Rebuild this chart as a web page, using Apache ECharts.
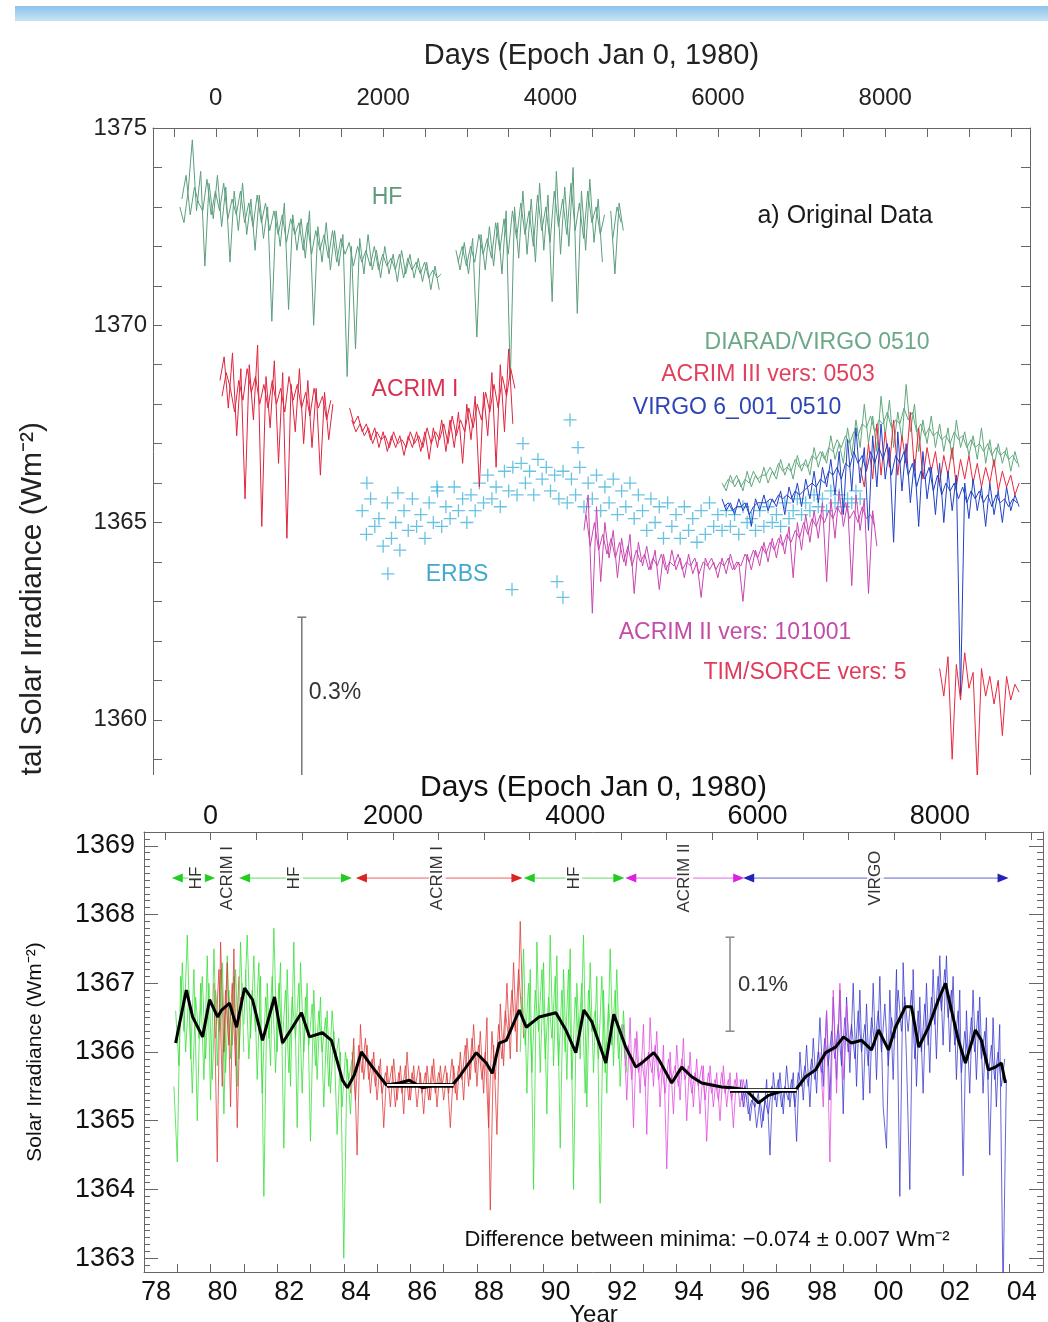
<!DOCTYPE html>
<html>
<head>
<meta charset="utf-8">
<script src="https://cdn.jsdelivr.net/npm/echarts@6.0.0/dist/echarts.min.js"></script>
<style>
  html, body { margin: 0; padding: 0; background: #fff; }
  #top { position: absolute; left: 0; top: 0; width: 1048px; height: 775px; }
  #bottom { position: absolute; left: 0; top: 775px; width: 1048px; height: 547px; }
</style>
</head>
<body>
<div id="top"></div>
<div id="bottom"></div>
<script>
var FONT = '"Liberation Sans", Arial, Helvetica, sans-serif';

// ---------- panel a: original data, x in days (epoch Jan 0, 1980) ----------
// each instrument has two interleaved samplings (a, then b shifted by 25 days)
var hfStart = -430, hfVals = [
  1373.0,1372.6,1373.4,1374.7,1372.9,1373.9,1371.5,1373.6,1372.7,1373.8,
  1372.5,1373.5,1371.6,1373.4,1372.4,1373.6,1372.3,1373.2,1371.9,1373.3,
  1372.2,1373.0,1370.1,1372.9,1372.0,1373.1,1370.4,1372.8,1371.9,1372.7,
  1371.7,1372.9,1370.0,1372.5,1371.6,1372.6,1371.4,1372.4,1371.5,1372.3,
  1368.7,1372.0,1369.4,1372.2,1371.3,1372.3,1371.4,1371.9,1371.2,1372.0,
  1371.3,1371.8,1371.1,1371.9,1371.3,1371.8,1371.2,1371.7,1371.1,1371.6,
  1370.9,1371.5,1370.9,null,null,null,1371.9,1371.4,1372.1,1371.3,
  1372.2,1369.7,1372.3,1371.4,1372.5,1371.5,1372.6,1371.3,1372.9,1368.6,
  1373.0,1371.7,1373.4,1371.8,1373.2,1371.6,1373.6,1371.9,1373.3,1370.6,
  1373.9,1371.8,1373.5,1372.0,1374.0,1370.3,1373.4,1371.9,1373.7,1372.1,
  1373.2,1371.6,null,1372.9,1371.3,1373.1,1372.4];
var hfbStart = -405, hfbVals = [
  1373.2,1373.8,1372.8,1373.5,1373.1,1372.9,1373.7,1372.8,1373.4,1372.9,
  1373.6,1372.7,1373.2,1372.8,1373.4,1372.6,1373.1,1372.5,1373.3,1372.6,
  1373.1,1372.4,1372.9,1372.3,1372.8,1372.1,1372.7,1372.3,1372.6,1371.9,
  1372.6,1371.8,1372.4,1371.9,1372.3,1371.7,1372.4,1371.6,1372.2,1371.8,
  1372.1,1371.5,1372.0,1371.6,1371.9,1371.5,1372.0,1371.4,1371.8,1371.5,
  1371.7,1371.4,1371.8,1371.2,1371.7,1371.4,1371.6,1371.3,1371.6,1371.2,
  1371.4,1371.2,1371.3,null,null,null,1371.6,1372.0,1371.5,1372.0,
  1371.6,1372.3,1371.8,1372.2,1371.7,1372.6,1371.9,1372.7,1371.8,1372.9,
  1372.2,1373.1,1372.3,1372.9,1372.0,1373.3,1372.4,1373.0,1372.1,1373.4,
  1372.5,1373.2,1372.3,1373.6,1372.4,1373.1,1372.2,1373.4,1372.6,1373.0,
  1372.3,1372.8,null,1372.2,1373.0,1372.6];

var acrim1Start = 50, acrim1Vals = [
  1368.6,1369.2,1367.9,1369.3,1367.2,1368.9,1365.6,1369.0,1367.6,1369.5,
  1364.9,1368.7,1367.4,1369.1,1366.5,1368.8,1364.6,1368.5,1367.3,1368.9,
  1367.0,1368.6,1366.9,1368.4,1366.2,1368.3,1367.1,1368.0,null,null,
  null,1367.9,1367.5,1367.7,1367.3,1367.5,1367.1,1367.4,1366.9,1367.3,
  1366.8,1367.2,1366.9,1367.2,1366.7,1367.2,1366.9,1367.3,1366.8,1367.3,
  1366.6,1367.4,1366.9,1367.6,1366.8,1367.6,1366.9,1367.8,1366.5,1368.0,
  1367.1,1368.2,1365.9,1368.3,1367.2,1368.8,1366.4,1369.0,1367.3,1369.4,
  1367.5];
var acrim1bStart = 75, acrim1bVals = [
  1368.2,1368.8,1368.4,1367.8,1368.6,1368.1,1368.9,1368.3,1368.7,1368.0,
  1368.5,1367.9,1368.6,1368.0,1368.4,1367.8,1368.7,1368.1,1368.5,1367.9,
  1368.3,1367.7,1368.4,1367.9,1368.2,1367.6,1368.1,null,null,null,
  null,1367.6,1367.3,1367.5,1367.2,1367.4,1367.0,1367.3,1367.1,1367.2,
  1366.9,1367.3,1367.0,1367.1,1366.9,1367.3,1367.0,1367.2,1366.9,1367.4,
  1367.0,1367.3,1367.1,1367.5,1367.0,1367.7,1367.2,1367.6,1367.3,1367.9,
  1367.4,1368.0,1367.6,1368.3,1367.8,1368.5,1367.9,1368.7,1368.2,1368.9,
  1368.4];

var erbsStart = 1750, erbsVals = [
  1365.3,1364.7,1365.6,1364.9,1365.1,1364.4,1365.5,1364.6,1365.0,1364.3,1365.3,1364.8,1365.6,1364.9,
  1365.2,1364.6,1365.5,1365.0,1365.8,1364.9,1365.4,1365.1,1365.9,1365.3,1365.6,1365.0,
  1365.7,1365.3,1366.0,1365.5,1366.2,1365.6,1365.9,1365.4,1366.3,1365.8,1366.4,1365.7,
  1366.5,1366.0,1366.3,1365.7,1366.6,1366.1,1366.4,1365.8,1366.2,1365.6,
  1366.3,1365.5,1366.1,1365.7,1366.4,1365.4,1366.0,1365.6,1366.2,1365.3,1365.9,1365.5,1366.1,1365.2,1365.8,1365.4,1366.0,1365.1,1365.7,
  1365.3,1364.8,1365.6,1365.0,1365.4,1364.6,1365.5,1364.9,1365.2,1364.6,1365.4,1364.8,1365.1,1364.5,1365.3,1364.7,1365.5,1364.9,1365.2,
  1364.8,1365.3,1364.9,1365.2,1364.7,1365.4,1365.0,1365.1,1364.8,1365.3,1364.9,1365.4,1365.0,1365.2,1364.9,1365.5,1365.1,
  1365.3,1365.6,1365.2,1365.5,1365.3,1365.7,1365.4,1365.6,1365.3,1365.8,1365.5,1365.7,1365.4,1365.6,1365.5,1365.8,1365.6];
var erbsOutDays = [1806, 2057, 2176, 2643, 3540, 3671, 4078, 4149, 4233, 4329];
var erbsOutVals = [1366.0, 1363.7, 1365.75, 1365.9, 1363.3, 1367.0, 1363.5, 1363.1, 1367.6, 1366.9];

var acrim2Start = 4400, acrim2Vals = [
  1364.8,1365.7,1362.7,1365.4,1363.5,1365.0,1364.1,1364.8,1363.6,1364.6,
  1363.9,1364.7,1363.2,1364.5,1363.9,1364.4,1363.8,1364.3,1363.3,1364.2,
  1363.7,1364.3,1363.8,1364.1,1363.6,1364.2,1363.7,1364.0,1363.1,1364.1,
  1363.8,1364.0,1363.6,1364.1,1363.7,1364.2,1363.8,1364.0,1363.0,1364.2,
  1363.8,1364.3,1363.9,1364.5,1364.0,1364.6,1364.1,1364.7,1364.2,1364.9,
  1363.6,1365.0,1364.3,1365.2,1364.5,1365.3,1364.6,1365.5,1363.5,1365.6,
  1364.6,1365.8,1364.9,1365.5,1363.4,1365.7,1364.8,1365.6,1363.2,1365.3,
  1364.4];
var acrim2bStart = 4425, acrim2bVals = [
  1365.2,1364.4,1365.0,1364.3,1364.7,1364.2,1364.6,1364.1,1364.5,1364.0,
  1364.4,1363.9,1364.3,1364.0,1364.2,1363.8,1364.1,1363.9,1364.2,1363.8,
  1364.0,1363.9,1364.2,1363.8,1364.0,1363.9,1364.1,1363.7,1364.0,1363.9,
  1364.1,1363.8,1364.0,1363.9,1364.1,1363.8,1364.0,1363.9,1364.2,1364.0,
  1364.3,1364.1,1364.4,1364.2,1364.5,1364.3,1364.6,1364.4,1364.7,1364.5,
  1364.8,1364.6,1365.0,1364.7,1365.1,1364.9,1365.2,1365.0,1365.3,1365.1,
  1365.4,1365.2,1365.5,1365.1,1365.3,1365.0,1365.4,1365.1,1365.2,1364.9];

var diaradStart = 6050, diaradVals = [
  1366.0,1365.8,1366.2,1365.9,1366.1,1365.8,1366.3,1365.9,1366.2,1366.0,
  1366.4,1366.0,1366.3,1366.1,1366.6,1366.2,1366.5,1366.1,1366.7,1366.3,
  1366.6,1366.2,1366.9,1366.4,1366.8,1366.5,1367.2,1366.6,1367.0,1366.5,
  1367.4,1366.7,1367.6,1366.9,1368.0,1367.0,1367.7,1366.8,1368.2,1367.2,
  1368.1,1366.9,1367.8,1367.1,1368.5,1367.3,1368.0,1366.8,1367.6,1367.0,
  1367.7,1366.9,1367.5,1366.8,1367.4,1366.6,1367.6,1366.9,1367.3,1366.7,
  1367.2,1366.6,1367.4,1366.5,1367.1,1366.4,1367.0,1366.5,1366.9,1366.3,1366.8,1366.4];
var diaradbStart = 6075, diaradbVals = [
  1365.9,1366.1,1366.0,1366.2,1365.9,1366.1,1366.0,1366.3,1366.1,1366.2,
  1366.2,1366.4,1366.2,1366.5,1366.3,1366.4,1366.3,1366.6,1366.4,1366.5,
  1366.4,1366.7,1366.6,1366.8,1366.6,1366.9,1366.8,1367.1,1366.9,1367.2,
  1367.0,1367.3,1367.2,1367.5,1367.4,1367.7,1367.3,1367.6,1367.5,1367.8,
  1367.4,1367.6,1367.5,1367.9,1367.6,1367.8,1367.3,1367.5,1367.2,1367.4,
  1367.2,1367.3,1367.1,1367.2,1367.0,1367.3,1367.1,1367.2,1366.9,1367.1,
  1366.9,1367.0,1366.8,1367.0,1366.7,1366.9,1366.7,1366.8,1366.6,1366.7,1366.5];

var acrim3Start = 7700, acrim3Vals = [
  1366.4,1365.9,1367.0,1366.1,1367.5,1366.2,1367.3,
  1366.4,1367.6,1366.2,1367.2,1366.5,1367.8,1366.3,1367.4,1366.1,1366.9,
  1366.3,1366.8,1366.0,1366.7,1366.2,1366.9,1365.9,1366.6,1366.1,1366.7,
  1366.0,1366.5,1365.9,1366.4,1366.0,1366.6,1365.8,1366.3,1365.9,1366.2,1365.7,1366.0];

var virgoStart = 6050, virgoVals = [
  1365.6,1365.3,1365.5,1365.2,1365.6,1365.3,1365.5,1364.9,1365.6,1365.3,
  1365.7,1365.3,1365.6,1365.4,1365.8,1365.2,1365.9,1365.5,1366.0,1365.4,
  1366.1,1365.6,1366.3,1365.5,1366.4,1365.9,1366.6,1365.7,1366.8,1365.2,
  1367.1,1365.8,1367.4,1366.0,1366.9,1364.8,1367.2,1365.9,1367.5,1366.1,
  1366.9,1364.5,1367.3,1365.8,1367.0,1365.5,1366.6,1364.9,1366.8,1365.6,
  1366.4,1365.2,1366.5,1365.0,1366.3,1365.3,1366.2,1360.6,1366.0,1365.1,
  1366.1,1365.3,1365.9,1364.9,1366.0,1365.2,1365.8,1365.0,1365.9,1365.3,1365.7,1365.4];
var virgobStart = 6075, virgobVals = [
  1365.4,1365.5,1365.3,1365.4,1365.4,1365.5,1365.2,1365.4,1365.5,1365.5,
  1365.5,1365.6,1365.5,1365.7,1365.6,1365.7,1365.6,1365.8,1365.7,1365.8,
  1365.9,1366.0,1365.9,1366.1,1366.0,1366.3,1366.2,1366.4,1366.1,1366.5,
  1366.4,1366.8,1366.5,1366.7,1366.3,1366.8,1366.5,1366.9,1366.6,1367.0,
  1366.2,1366.7,1366.5,1366.8,1366.2,1366.5,1365.9,1366.3,1366.1,1366.4,
  1365.8,1366.2,1365.7,1366.0,1365.8,1366.0,1365.6,1365.9,1365.5,1365.8,
  1365.6,1365.8,1365.5,1365.7,1365.4,1365.7,1365.5,1365.6,1365.4,1365.6,1365.5];

var timStart = 8650, timVals = [
  1361.3,1360.6,1361.6,1359.0,1361.4,1360.5,1361.7,1360.8,1361.2,1358.5,
  1361.3,1360.6,1361.1,1360.4,1361.0,1359.6,1361.1,1360.5,1360.9,1360.7];
var dayStep = 50;

var pctBarDay = 1028, pctBarTop = 1362.6, pctBarPct = 0.3;

// ---------- panel b: composite, x in years (78 = 1978) ----------
var yrStep = 0.1;
var hf1Start = 78.9, hf1Vals = [1365.5,1364.4,1367.1,1366.3,1367.7,1365.9,1367.2,1365.0,1367.0,1365.6,1367.4,1365.3,1367.5,1365.8,1367.2,1365.1,1367.4,1365.9,1367.1,1365.5,1367.6,1366.0];
var hf1bStart = 78.95, hf1bVals = [1366.6,1365.8,1367.3,1366.0,1366.9,1365.4,1366.8,1366.2,1367.1,1365.9,1367.0,1365.6,1366.9,1366.3,1367.3,1365.7,1366.9,1366.1,1367.2,1365.9,1367.0];
var ac1aStart = 80.1, ac1aVals = [1367.0,1364.4,1367.6,1366.0,1367.3,1365.2,1367.5,1364.9,1366.8];
var ac1abStart = 80.15, ac1abVals = [1366.2,1367.2,1365.5,1366.9,1366.1,1367.0,1365.8,1367.1];
var hf2Start = 81.0, hf2Vals = [
  1366.4,1367.7,1366.2,1367.4,1365.6,1367.1,1363.9,1367.0,1365.8,1367.8,
  1366.0,1367.3,1364.6,1367.2,1365.5,1367.6,1364.9,1367.3,1366.0,1367.0,
  1364.7,1366.9,1365.6,1366.8,1365.2,1366.6,1365.4,1366.3,1364.8,1366.0,
  1363.0,1365.9,1365.1,1366.1];
var hf2bStart = 81.05, hf2bVals = [
  1367.2,1365.9,1366.9,1366.3,1367.3,1365.4,1366.8,1366.2,1367.1,1365.7,
  1367.0,1366.1,1366.9,1365.7,1366.8,1366.2,1367.0,1365.4,1366.8,1366.1,
  1366.7,1365.8,1366.6,1366.0,1366.5,1365.5,1366.6,1365.9,1366.2,1365.2,
  1366.0,1365.6,1365.9];
var ac1bStart = 84.2, ac1bVals = [
  1365.4,1366.2,1364.5,1366.4,1365.6,1366.1,1365.4,1366.0,1365.3,1365.9,
  1364.9,1365.8,1365.2,1365.9,1365.3,1365.8,1365.1,1366.0,1365.3,1365.8,
  1365.2,1365.7,1365.1,1365.8,1365.3,1365.9,1365.2,1365.8,1365.3,1365.7,
  1364.9,1365.8,1365.3,1366.0,1365.3,1366.2,1365.6,1366.4,1365.5,1366.3,
  1365.4,1366.5,1363.7,1366.1,1364.8,1366.7,1365.8,1367.0,1365.9,1367.3,
  1366.0,1367.9,1366.2];
var ac1bbStart = 84.25, ac1bbVals = [
  1366.0,1365.3,1366.1,1365.7,1366.2,1365.6,1365.9,1365.5,1365.8,1365.4,
  1365.7,1365.5,1365.8,1365.2,1365.7,1365.4,1365.8,1365.3,1365.7,1365.5,
  1365.8,1365.4,1365.7,1365.3,1365.8,1365.4,1365.7,1365.5,1365.8,1365.4,
  1365.9,1365.4,1365.8,1365.6,1366.1,1365.5,1366.2,1365.7,1366.1,1365.6,
  1366.0,1364.9,1366.3,1365.6,1366.4,1365.9,1366.6,1366.2,1366.9,1366.3,
  1367.2,1366.5];
var hf3Start = 89.3, hf3Vals = [
  1366.0,1367.5,1365.4,1367.2,1364.0,1367.6,1365.7,1367.3,1365.1,1367.7,
  1365.8,1367.4,1364.6,1367.2,1365.6,1367.5,1364.0,1367.0,1365.9,1367.7,
  1365.2,1367.3,1365.7,1367.1,1363.8,1366.9,1365.4,1367.5,1365.8,1367.2,
  1365.5,1366.6,1365.7];
var hf3bStart = 89.35, hf3bVals = [
  1366.8,1366.1,1367.0,1365.7,1366.9,1366.3,1367.2,1365.9,1366.8,1366.2,
  1367.1,1365.8,1366.9,1366.0,1367.2,1365.6,1366.8,1366.2,1367.0,1365.4,
  1366.9,1366.3,1366.6,1365.9,1367.1,1365.7,1366.7,1366.1,1366.9,1365.9,
  1366.4,1365.9];
var ac2Start = 92.4, ac2Vals = [
  1366.4,1365.3,1366.5,1364.9,1366.3,1365.4,1366.4,1364.8,1366.5,1365.5,
  1366.3,1365.2,1366.1,1364.3,1366.0,1365.1,1366.1,1365.3,1366.2,1365.0,
  1366.0,1365.2,1365.9,1365.1,1365.8,1364.7,1365.8,1365.2,1365.7,1365.0,
  1365.8,1365.2,1365.7,1364.9,1365.7,1365.2,1365.6,1365.3];
var ac2bStart = 92.45, ac2bVals = [
  1365.8,1366.1,1365.6,1366.2,1365.7,1365.9,1365.5,1366.0,1365.7,1366.1,
  1365.6,1365.8,1365.4,1365.9,1365.6,1365.8,1365.5,1365.9,1365.6,1365.8,
  1365.4,1365.7,1365.5,1365.8,1365.3,1365.7,1365.4,1365.6,1365.3,1365.7,
  1365.4,1365.6,1365.3,1365.6,1365.4,1365.6,1365.2];
var ac2cStart = 98.3, ac2cVals = [1366.0,1365.2,1366.6,1364.4,1366.9,1365.4,1367.0,1365.6,1366.7,1365.9];
var virStart = 95.9, virVals = [
  1365.6,1365.2,1365.6,1365.0,1365.4,1364.9,1365.3,1365.0,1365.6,1364.5,
  1365.7,1365.2,1365.7,1365.1,1365.8,1365.2,1365.7,1364.7,1366.0,1365.3,
  1366.1,1365.2,1366.2,1365.4,1366.5,1365.5,1366.6,1365.3,1366.8,1365.6,
  1366.9,1365.1,1366.8,1365.7,1367.0,1365.5,1366.9,1365.3,1366.7,1365.4,
  1367.0,1365.6,1367.1,1365.2,1364.6,1366.9,1365.6,1367.2,1363.9,1367.3,
  1365.9,1364.0,1367.2,1365.5,1366.8,1365.4,1367.0,1365.7,1367.2,1365.9,
  1367.4,1366.1,1367.4,1366.0,1367.1,1365.6,1366.9,1364.2,1366.6,1365.4,
  1366.9,1365.6,1366.8,1365.4,1366.5,1364.5,1366.5,1365.2,1366.4,1362.5,
  1365.6];
var virbStart = 95.95, virbVals = [
  1365.3,1365.5,1365.1,1365.3,1365.2,1365.4,1364.9,1365.3,1365.1,1365.5,
  1365.3,1365.6,1365.2,1365.5,1365.3,1365.6,1365.2,1365.7,1365.5,1365.8,
  1365.5,1365.9,1365.6,1366.0,1365.7,1366.2,1365.8,1366.3,1365.9,1366.4,
  1365.8,1366.5,1366.0,1366.4,1365.9,1366.6,1366.0,1366.4,1365.8,1366.5,
  1366.1,1366.6,1366.0,1366.7,1365.8,1366.5,1366.2,1366.9,1366.3,1366.8,
  1366.3,1366.9,1365.9,1366.6,1366.0,1366.7,1366.1,1366.8,1366.4,1367.1,
  1366.6,1367.2,1366.5,1366.9,1366.1,1366.6,1365.7,1366.3,1365.9,1366.5,
  1366.0,1366.6,1365.9,1366.3,1365.6,1366.1,1365.6,1366.0,1365.5,1365.9];

var smoothYears = [78.95,79.27,79.46,79.76,79.97,80.21,80.33,80.57,80.78,81.02,81.26,81.56,81.92,82.16,82.46,82.73,82.97,83.36,83.63,83.96,
  84.11,84.32,84.53,84.86,85.28,85.67,85.97,86.36,86.87,87.26,87.47,87.98,88.28,88.46,88.67,88.88,89.27,89.48,89.87,90.37,
  90.67,90.97,91.21,91.45,91.87,92.11,92.47,92.77,92.95,93.16,93.31,93.45,93.85,94.15,94.45,94.75,95.05,95.35,95.65,96.07,
  96.46,96.76,97.27,97.57,97.87,98.17,98.47,98.77,99.01,99.25,99.55,99.85,100.06,100.36,100.57,100.87,101.05,101.27,101.56,101.86,
  102.07,102.25,102.46,102.67,102.97,103.15,103.36,103.57,103.75,103.87];
var smoothVals = [1366.13,1366.90,1366.51,1366.22,1366.76,1366.51,1366.61,1366.71,1366.36,1366.93,1366.76,1366.17,1366.80,1366.13,1366.36,1366.57,1366.22,1366.28,1366.17,1365.59,
  1365.48,1365.67,1366.00,1365.78,1365.52,1365.55,1365.59,1365.48,1365.53,1365.52,1365.64,1365.99,1365.84,1365.69,1366.13,1366.17,1366.61,1366.36,1366.51,1366.57,
  1366.32,1365.99,1366.61,1366.44,1365.84,1366.55,1366.07,1365.78,1365.84,1365.93,1365.99,1365.90,1365.55,1365.78,1365.64,1365.55,1365.52,1365.49,1365.48,1365.45,
  1365.26,1365.37,1365.45,1365.45,1365.64,1365.74,1365.99,1366.07,1366.22,1366.13,1366.17,1366.03,1366.32,1366.03,1366.36,1366.66,1366.66,1366.07,1366.36,1366.76,
  1367.00,1366.61,1366.17,1365.84,1366.32,1366.17,1365.74,1365.78,1365.84,1365.55];

// minimum levels of cycles 21/22 and 22/23
var minLevels = [1365.52, 1365.45];
var minFrom = [85.3, 95.6], minTo = [87.3, 97.6];

// instrument periods used in the composite
var segNames = ['HF', 'ACRIM I', 'HF', 'ACRIM I', 'HF', 'ACRIM II', 'VIRGO'];
var segFrom = [79.0, null, 81.02, 84.53, 89.57, 92.62, 96.16];
var segTo = [79.97, null, 84.08, 89.2, 92.26, 95.86, 103.8];
var segLabelAt = [79.58, 80.51, 82.52, 86.81, 90.91, 94.24, 99.97];
var segColors = ['#22cc22', '#dd2222', '#22cc22', '#dd2222', '#22cc22', '#dd22dd', '#2222bb'];
var segLevel = 1368.53;

var scaleBarYear = 95.6, scaleBarTop = 1367.67, scaleBarPct = 0.1;

function seq(start, step, vals) {
  return vals.map(function (v, i) { return [+(start + i * step).toFixed(3), v]; });
}
function zip(xs, ys) {
  return xs.map(function (x, i) { return [x, ys[i]]; });
}
function noisy(data, color, opacity, z) {
  return { type: 'line', data: data, symbol: 'none', silent: true, z: z || 2,
    lineStyle: { color: color, width: 1, opacity: opacity == null ? 1 : opacity } };
}
function txt(t, x, y, color, size, align, rot) {
  return { type: 'text', x: x, y: y, z: 100, rotation: rot || 0,
    style: { text: t, fill: color, font: size + 'px ' + FONT,
      align: align || 'center', textAlign: align || 'center',
      verticalAlign: 'middle', textVerticalAlign: 'middle' } };
}
function range(a, b, s) {
  var out = [];
  for (var v = a; v <= b + 1e-9; v += s) out.push(+v.toFixed(3));
  return out;
}
function plain(v) { return String(v); }

var AX = '#666';

// ------------------------------ top chart ------------------------------
var topChart = echarts.init(document.getElementById('top'));
topChart.setOption({
  animation: false,
  grid: { left: 153, right: 18, top: 128, bottom: 0, outerBoundsMode: 'none' },
  xAxis: {
    type: 'value', position: 'top', min: -750, max: 9730,
    axisLine: { onZero: false, lineStyle: { color: AX } },
    axisTick: { inside: true, length: 9, customValues: range(-500, 9500, 500), lineStyle: { color: AX } },
    axisLabel: { customValues: [0, 2000, 4000, 6000, 8000], formatter: plain, fontSize: 24, color: '#222', fontFamily: FONT, margin: 18 },
    splitLine: { show: false },
    name: 'Days (Epoch Jan 0, 1980)', nameLocation: 'middle', nameGap: 58, nameMoveOverlap: false,
    nameTextStyle: { fontSize: 29, color: '#222', fontFamily: FONT }
  },
  yAxis: [
    { type: 'value', position: 'left', min: 1358.6, max: 1375,
      axisLine: { show: true, onZero: false, lineStyle: { color: AX } },
      axisTick: { inside: true, length: 9, customValues: range(1359, 1375, 1), lineStyle: { color: AX } },
      axisLabel: { customValues: [1360, 1365, 1370, 1375], formatter: plain, fontSize: 24, color: '#222', fontFamily: FONT, margin: 6 },
      splitLine: { show: false } },
    { type: 'value', position: 'right', min: 1358.6, max: 1375,
      axisLine: { show: true, onZero: false, lineStyle: { color: AX } },
      axisTick: { inside: true, length: 9, customValues: range(1359, 1375, 1), lineStyle: { color: AX } },
      axisLabel: { show: false }, splitLine: { show: false } }
  ],
  graphic: [
    { type: 'rect', z: 100, shape: { x: 15, y: 6, width: 1033, height: 15 },
      style: { fill: new echarts.graphic.LinearGradient(0, 0, 0, 1, [
        { offset: 0, color: '#8cc4e9' }, { offset: 1, color: '#c6e3f5' }]) } },
    txt('Total Solar Irradiance (Wm\u207B\u00B2)', 33, 422, '#222', 30, 'right', Math.PI / 2),
    txt('HF', 387, 198, '#5b9c7d', 23),
    txt('a) Original Data', 845, 216, '#1a1a1a', 25),
    txt('ACRIM I', 415, 390, '#d8304e', 23),
    txt('DIARAD/VIRGO 0510', 817, 343, '#6aa886', 23),
    txt('ACRIM III vers: 0503', 768, 375, '#e2405c', 23),
    txt('VIRGO 6_001_0510', 737, 408, '#2c44b4', 23),
    txt('ERBS', 457, 575, '#43a9cc', 23),
    txt('ACRIM II vers: 101001', 735, 633, '#c24ca8', 23),
    txt('TIM/SORCE vers: 5', 805, 673, '#df3c5c', 23),
    txt('0.3%', 335, 693, '#333', 23)
  ],
  series: [
    { type: 'scatter', silent: true, z: 1,
      symbol: 'path://M0,4.5H10V5.5H0Z M4.5,0H5.5V10H4.5Z', symbolSize: 13,
      itemStyle: { color: '#45b3dc' },
      data: seq(erbsStart, dayStep, erbsVals).concat(zip(erbsOutDays, erbsOutVals)) },
    noisy(seq(hfStart, dayStep, hfVals), '#5b9e7d'),
    noisy(seq(hfbStart, dayStep, hfbVals), '#5b9e7d'),
    noisy(seq(acrim1Start, dayStep, acrim1Vals), '#e0243e'),
    noisy(seq(acrim1bStart, dayStep, acrim1bVals), '#e0243e'),
    noisy(seq(acrim2Start, dayStep, acrim2Vals), '#c845b0', 1, 3),
    noisy(seq(acrim2bStart, dayStep, acrim2bVals), '#c845b0', 1, 3),
    noisy(seq(diaradStart, dayStep, diaradVals), '#62a87e', 1, 3),
    noisy(seq(diaradbStart, dayStep, diaradbVals), '#62a87e', 1, 3),
    noisy(seq(acrim3Start, dayStep, acrim3Vals), '#e8283e', 1, 4),
    noisy(seq(virgoStart, dayStep, virgoVals), '#2242c4', 1, 5),
    noisy(seq(virgobStart, dayStep, virgobVals), '#2242c4', 1, 5),
    noisy(seq(timStart, dayStep, timVals), '#e8283e', 1, 5),
    { type: 'line', silent: true, z: 6, lineStyle: { color: '#777', width: 1.5 },
      data: [
        { value: [pctBarDay, pctBarTop], symbol: 'rect', symbolSize: [9, 1.5], itemStyle: { color: '#777' } },
        { value: [pctBarDay, pctBarTop * (1 - pctBarPct / 100)], symbol: 'none' }
      ] }
  ]
});

// ------------------------------ bottom chart ------------------------------
var botChart = echarts.init(document.getElementById('bottom'));

var segSeries = [];
segNames.forEach(function (n, i) {
  if (segFrom[i] == null) return;
  segSeries.push({ type: 'line', silent: true, z: 6,
    lineStyle: { color: segColors[i], width: 1, opacity: 0.7 },
    itemStyle: { color: segColors[i] },
    symbol: 'triangle', symbolSize: [9, 11], showSymbol: true,
    data: [
      { value: [segFrom[i], segLevel], symbolRotate: 90 },
      { value: [segTo[i], segLevel], symbolRotate: -90 }
    ] });
});

var yearLabelPos = range(78.36, 104.36, 2);
var GREEN = '#33dd33', RED = '#dd3333', MAG = '#dd44dd', BLUE = '#3333cc';

botChart.setOption({
  animation: false,
  grid: { left: 144, right: 5, top: 57, bottom: 50, outerBoundsMode: 'none' },
  xAxis: [
    { type: 'value', position: 'bottom', min: 78, max: 105,
      axisLine: { onZero: false, lineStyle: { color: AX } },
      axisTick: { inside: true, length: 8, customValues: range(79, 104, 1), lineStyle: { color: AX } },
      axisLabel: { customValues: yearLabelPos, fontSize: 27, color: '#111', fontFamily: FONT, margin: 7,
        formatter: function (v) { var y = Math.floor(v + 1e-6) % 100; return (y < 10 ? '0' : '') + y; } },
      splitLine: { show: false },
      name: 'Year', nameLocation: 'middle', nameGap: 31, nameMoveOverlap: false,
      nameTextStyle: { fontSize: 24, color: '#111', fontFamily: FONT } },
    { type: 'value', position: 'top', min: -730.5, max: 9131.25,
      axisLine: { onZero: false, lineStyle: { color: AX } },
      axisTick: { inside: true, length: 8, customValues: range(-500, 9000, 500), lineStyle: { color: AX } },
      axisLabel: { customValues: [0, 2000, 4000, 6000, 8000], formatter: plain, fontSize: 27, color: '#111', fontFamily: FONT, margin: 2 },
      splitLine: { show: false },
      name: 'Days (Epoch Jan 0, 1980)', nameLocation: 'middle', nameGap: 29, nameMoveOverlap: false,
      nameTextStyle: { fontSize: 30, color: '#111', fontFamily: FONT } }
  ],
  yAxis: [
    { type: 'value', position: 'left', min: 1362.8, max: 1369.2,
      axisLine: { show: true, onZero: false, lineStyle: { color: AX } },
      axisTick: { inside: true, length: 14, customValues: range(1363, 1369, 1), lineStyle: { color: AX } },
      axisLabel: { customValues: range(1363, 1369, 1), formatter: plain, fontSize: 27, color: '#111', fontFamily: FONT, margin: 9 },
      splitLine: { show: false } },
    { type: 'value', position: 'left', offset: 0, min: 1362.8, max: 1369.2,
      axisLine: { show: false, onZero: false },
      axisTick: { inside: true, length: 6, customValues: range(1362.9, 1369.1, 0.1), lineStyle: { color: AX } },
      axisLabel: { show: false }, splitLine: { show: false } },
    { type: 'value', position: 'right', min: 1362.8, max: 1369.2,
      axisLine: { show: true, onZero: false, lineStyle: { color: AX } },
      axisTick: { inside: true, length: 14, customValues: range(1363, 1369, 1), lineStyle: { color: AX } },
      axisLabel: { show: false }, splitLine: { show: false } },
    { type: 'value', position: 'right', offset: 0, min: 1362.8, max: 1369.2,
      axisLine: { show: false, onZero: false },
      axisTick: { inside: true, length: 6, customValues: range(1362.9, 1369.1, 0.1), lineStyle: { color: AX } },
      axisLabel: { show: false }, splitLine: { show: false } }
  ],
  graphic: [
    txt('Solar Irradiance (Wm\u207B\u00B2)', 35, 277, '#111', 21, 'center', Math.PI / 2),
    txt('Difference between minima: \u22120.074 \u00B1 0.007 Wm\u207B\u00B2', 707, 465, '#111', 22),
    txt('0.1%', 738, 210, '#333', 22, 'left')
  ],
  series: [
    noisy(seq(hf1Start, yrStep, hf1Vals), GREEN, 0.75),
    noisy(seq(hf1bStart, yrStep, hf1bVals), GREEN, 0.75),
    noisy(seq(ac1aStart, yrStep, ac1aVals), RED, 0.75),
    noisy(seq(ac1abStart, yrStep, ac1abVals), RED, 0.75),
    noisy(seq(hf2Start, yrStep, hf2Vals), GREEN, 0.75),
    noisy(seq(hf2bStart, yrStep, hf2bVals), GREEN, 0.75),
    noisy(seq(ac1bStart, yrStep, ac1bVals), RED, 0.75),
    noisy(seq(ac1bbStart, yrStep, ac1bbVals), RED, 0.75),
    noisy(seq(hf3Start, yrStep, hf3Vals), GREEN, 0.75),
    noisy(seq(hf3bStart, yrStep, hf3bVals), GREEN, 0.75),
    noisy(seq(ac2Start, yrStep, ac2Vals), MAG, 0.75),
    noisy(seq(ac2bStart, yrStep, ac2bVals), MAG, 0.75),
    noisy(seq(virStart, yrStep, virVals), BLUE, 0.75),
    noisy(seq(virbStart, yrStep, virbVals), BLUE, 0.75),
    noisy(seq(ac2cStart, yrStep, ac2cVals), MAG, 0.75, 3),
    { type: 'line', silent: true, z: 4, symbol: 'none',
      lineStyle: { color: '#000', width: 3 }, data: zip(smoothYears, smoothVals) },
    { type: 'lines', silent: true, z: 5, coordinateSystem: 'cartesian2d', polyline: false,
      lineStyle: { color: '#000', width: 4.5, opacity: 1 },
      data: minLevels.map(function (v, i) { return { coords: [[minFrom[i], v], [minTo[i], v]] }; }) },
    { type: 'lines', silent: true, z: 5, coordinateSystem: 'cartesian2d', polyline: false,
      lineStyle: { color: '#fff', width: 2, opacity: 1 },
      data: minLevels.map(function (v, i) { return { coords: [[minFrom[i], v], [minTo[i], v]] }; }) },
    { type: 'line', silent: true, z: 6, lineStyle: { color: '#888', width: 1.5 },
      data: [
        { value: [scaleBarYear, scaleBarTop], symbol: 'rect', symbolSize: [9, 1.5], itemStyle: { color: '#888' } },
        { value: [scaleBarYear, scaleBarTop * (1 - scaleBarPct / 100)], symbol: 'rect', symbolSize: [9, 1.5], itemStyle: { color: '#888' } }
      ] }
  ].concat(segSeries).concat([
    { type: 'scatter', silent: true, z: 8, symbol: 'rect', symbolSize: 2, itemStyle: { color: 'rgba(255,255,255,0)' },
      label: { show: true, position: 'inside', rotate: 90, formatter: '{b}', fontSize: 17, color: '#000',
        fontFamily: FONT, backgroundColor: '#fff', padding: [0, 2] },
      labelLayout: { hideOverlap: false },
      data: segNames.map(function (n, i) { return { name: n, value: [segLabelAt[i], segLevel] }; }) }
  ])
});
</script>
</body>
</html>
